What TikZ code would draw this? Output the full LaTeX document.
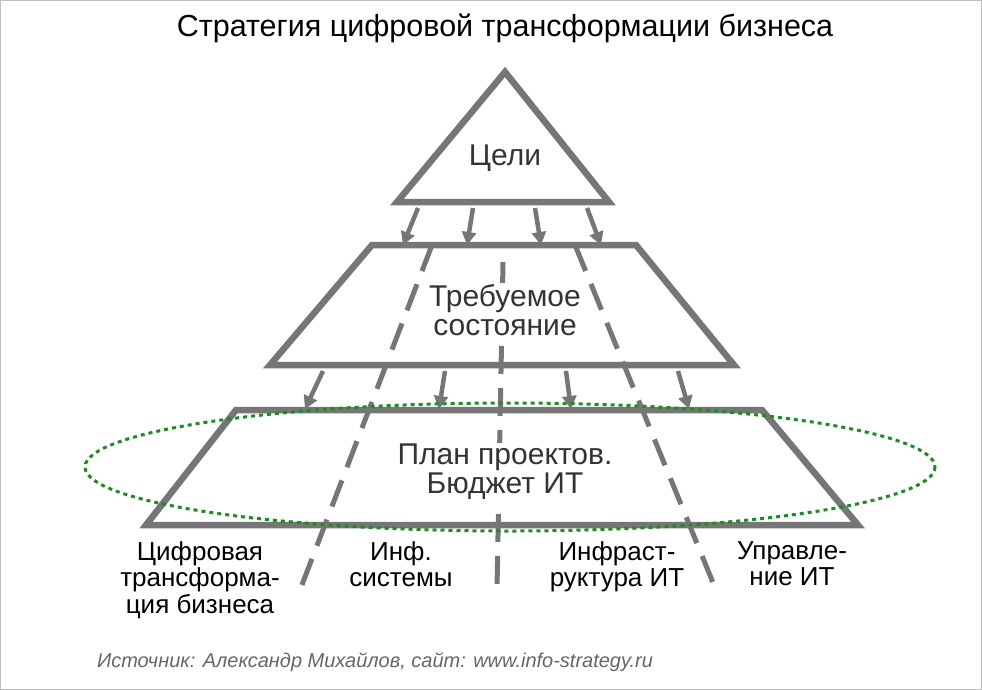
\documentclass[tikz,border=0pt]{standalone}
\usepackage{fontspec}
\setmainfont{Liberation Sans}
\usetikzlibrary{arrows.meta}
\definecolor{gr}{RGB}{118,118,118}
\definecolor{grn}{RGB}{30,140,30}
\begin{document}
\begin{tikzpicture}[x=1pt,y=-1pt,
  shp/.style={draw=gr,line width=6.5pt,line join=miter},
  arr/.style={draw=gr,line width=4.5pt,-{Triangle[length=13pt,width=14pt]}},
  dsh/.style={draw=gr,line width=5pt,dash pattern=on 28pt off 14pt},
  txt/.style={font=\fontsize{30}{29}\selectfont,text=black!80,align=center},
  lab/.style={font=\fontsize{26}{26.5}\selectfont,align=center,anchor=north}]
\useasboundingbox (0,0) rectangle (982,690);
\draw[black!25] (0.5,0.5) rectangle (981.5,689.5);
\node[font=\fontsize{30.5}{32}\selectfont] (title) at (505,28) {Стратегия цифровой трансформации бизнеса};
\draw[shp] (505,72) -- (609,202) -- (397,202) -- cycle;
\node[txt] (t1) at (505,158) {Цели};
\draw[shp] (372,245) -- (636,245) -- (734,365) -- (270,365) -- cycle;
\draw[shp] (236,410) -- (762,410) -- (858,525) -- (146,525) -- cycle;
\draw[dsh] (432,245) -- (300,590);
\draw[dsh] (503,262) -- (497,590);
\draw[dsh] (575,245) -- (716,590);
\node[txt,fill=white,inner sep=1pt] (t2) at (505,310) {Требуемое\\состояние};
\node[txt,fill=white,inner sep=1pt] (t3) at (505,472) {План проектов.\\Бюджет ИТ};
\foreach \a/\b/\c/\d in {418/208/403/245,473/208/467/245,535/208/541/245,587/208/601/245,
 323/371/305/409,445/371/439/409,566/371/571/409,678/371/689/409}
  \draw[arr] (\a,\b) -- (\c,\d);
\draw[grn,line width=3pt,dash pattern=on 4pt off 4pt] (510,467) ellipse [x radius=425, y radius=64];
\node[lab] (l1) at (200,538) {Цифровая\\трансформа-\\ция бизнеса};
\node[lab] (l2) at (401,538) {Инф.\\системы};
\node[lab] (l3) at (617,538) {Инфраст-\\руктура ИТ};
\node[lab] (l4) at (792,538) {Управле-\\ние ИТ};
\node[font=\fontsize{20}{22}\selectfont\itshape,text=black!60] (src) at (375,662) {Источник: Александр Михайлов, сайт: www.info-strategy.ru};
\end{tikzpicture}
\end{document}
